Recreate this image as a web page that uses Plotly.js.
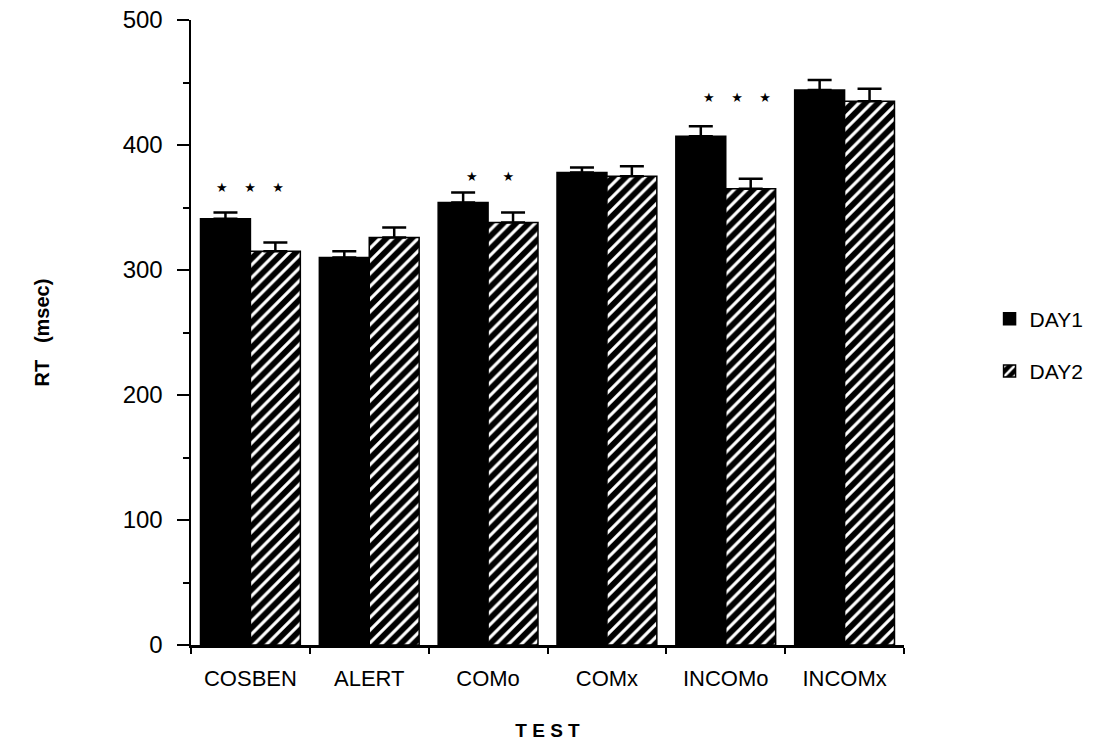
<!DOCTYPE html>
<html>
<head>
<meta charset="utf-8">
<script src="https://cdn.plot.ly/plotly-3.0.1.min.js"></script>
<style>html,body{margin:0;padding:0;background:#fff;}#chart{width:1115px;height:746px;}</style>
</head>
<body>
<div id="chart"></div>
<script>
var categories = ["COSBEN", "ALERT", "COMo", "COMx", "INCOMo", "INCOMx"];
var day1 = [341, 310, 354, 378, 407, 444];
var day1Err = [5, 5, 8, 4, 8, 8];
var day2 = [315, 326, 338, 375, 365, 435];
var day2Err = [7, 8, 8, 8, 8, 10];
var sigCategories = ["COSBEN", "COMo", "INCOMo"];
var sigLabels = ["★    ★    ★", "★      ★", "★    ★    ★"];
var sigY = [366, 375, 438];
var sigShift = [0, 2, 11];

var font = "Liberation Sans, Arial, Helvetica, sans-serif";

var traces = [
  {
    type: "bar", name: "DAY1", x: categories, y: day1, legendgroup: "a",
    marker: {color: "#000", line: {color: "#000", width: 1.5}},
    error_y: {type: "data", array: day1Err, arrayminus: day1Err.map(function(){return 0;}), symmetric: false, color: "#000", thickness: 2.5, width: 12}
  },
  {
    type: "bar", name: "DAY2", x: categories, y: day2, legendgroup: "b",
    marker: {color: "#000", line: {color: "#000", width: 1.5},
      pattern: {shape: "/", bgcolor: "#000", fgcolor: "#fff", size: 9, solidity: 0.35, fillmode: "replace"}},
    error_y: {type: "data", array: day2Err, arrayminus: day2Err.map(function(){return 0;}), symmetric: false, color: "#000", thickness: 2.5, width: 12}
  }
];

var annotations = sigCategories.map(function(c, i) {
  return {x: c, y: sigY[i], xref: "x", yref: "y", text: sigLabels[i], showarrow: false,
    xshift: sigShift[i], font: {size: 13, color: "#000", family: "DejaVu Sans"}};
});

var layout = {
  width: 1115, height: 746,
  margin: {l: 191, r: 211, t: 20, b: 101},
  paper_bgcolor: "#fff", plot_bgcolor: "#fff",
  barmode: "group", bargap: 0.16, bargroupgap: 0,
  font: {family: font, color: "#000"},
  xaxis: {
    type: "category", showline: true, linecolor: "#000", linewidth: 2.5,
    ticks: "outside", tickson: "boundaries", ticklen: 6, tickwidth: 2, tickcolor: "#000",
    tickfont: {size: 22, family: font}, ticklabelstandoff: 12, showgrid: false, zeroline: false,
    title: {text: "<b>T E S T</b>", font: {size: 19, family: font}, standoff: 34}
  },
  yaxis: {
    range: [0, 500], dtick: 100, showline: true, linecolor: "#000", linewidth: 2.5,
    ticks: "outside", ticklen: 12, tickwidth: 2, tickcolor: "#000",
    minor: {dtick: 50, ticks: "outside", ticklen: 6, tickwidth: 2, tickcolor: "#000"},
    tickfont: {size: 24, family: font}, ticklabelstandoff: 9, showgrid: false, zeroline: false,
    title: {text: "<b>RT &nbsp; (msec)</b>", font: {size: 20, family: font}, standoff: 68}
  },
  showlegend: true,
  legend: {x: 1.12, y: 0.48, xanchor: "left", yanchor: "middle", traceorder: "grouped",
    tracegroupgap: 22, font: {size: 21, family: font}, bgcolor: "rgba(0,0,0,0)", itemwidth: 30},
  annotations: annotations
};

Plotly.newPlot("chart", traces, layout, {displayModeBar: false, staticPlot: true});
</script>
</body>
</html>
